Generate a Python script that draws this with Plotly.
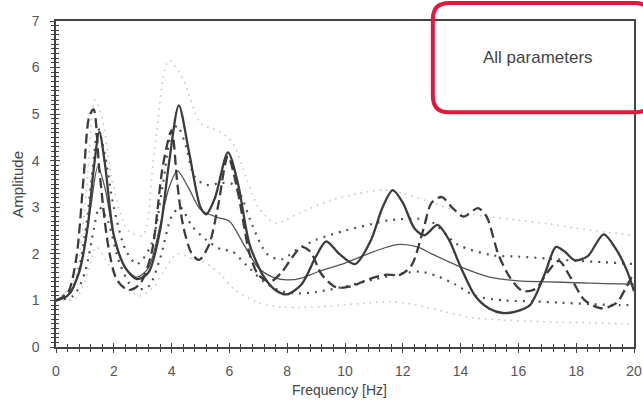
import plotly.graph_objects as go

# ---- data ----
case_a_x = [0, 0.4, 0.8, 1.1, 1.3, 1.5, 1.7, 2.0, 2.4, 2.8, 3.2, 3.6, 3.9, 4.25, 4.6, 5.0, 5.2, 5.5, 5.95, 6.3, 6.7, 7.2, 7.6, 8.0, 8.5, 9.0, 9.35, 9.8, 10.35, 10.9, 11.3, 11.65, 12.0, 12.4, 12.75, 13.2, 13.6, 14.0, 14.5, 15.0, 15.45, 15.9, 16.4, 16.9, 17.3, 17.6, 17.95, 18.4, 18.95, 19.4, 19.75, 20]
case_a_y = [1.0, 1.1, 1.6, 2.6, 3.8, 4.62, 3.9, 2.4, 1.7, 1.46, 1.6, 2.5, 3.9, 5.19, 4.2, 3.0, 2.85, 3.2, 4.18, 3.5, 2.2, 1.5, 1.22, 1.13, 1.35, 1.95, 2.27, 2.0, 1.78, 2.3, 3.0, 3.37, 3.1, 2.55, 2.4, 2.62, 2.3, 1.72, 1.1, 0.82, 0.73, 0.76, 0.9, 1.55, 2.15, 2.05, 1.86, 1.95, 2.42, 2.08, 1.65, 1.2]

case_b_x = [0, 0.4, 0.7, 0.95, 1.15, 1.3, 1.5, 1.8, 2.1, 2.5, 2.9, 3.3, 3.7, 4.0, 4.2, 4.4, 4.7, 4.95, 5.3, 5.6, 5.95, 6.3, 6.7, 7.0, 7.4, 7.8, 8.2, 8.5, 8.8, 9.2, 9.7, 10.2, 10.8, 11.4, 11.9, 12.3, 12.7, 13.0, 13.35, 13.7, 14.1, 14.6, 14.9, 15.3, 15.7, 16.15, 16.6, 17.0, 17.4, 17.8, 18.3, 18.9, 19.4, 19.7, 20]
case_b_y = [1.0, 1.15, 1.9, 3.6, 4.95, 5.1, 3.8, 2.2, 1.45, 1.22, 1.35, 2.0, 3.9, 4.65, 3.5, 2.6, 2.0, 1.87, 2.2, 3.0, 4.1, 3.3, 2.0, 1.55, 1.4, 1.6, 1.95, 2.15, 2.05, 1.55, 1.28, 1.3, 1.45, 1.55, 1.55, 1.75, 2.5, 3.1, 3.22, 3.0, 2.8, 2.98, 2.8, 2.0, 1.5, 1.2, 1.25, 1.6, 1.85, 1.5, 1.0, 0.83, 0.95, 1.25, 1.6]

mean_x = [0, 0.5, 0.9, 1.2, 1.45, 1.7, 2.0, 2.4, 2.8, 3.2, 3.6, 3.9, 4.2, 4.6, 5.0, 5.6, 6.0, 6.5, 7.0, 7.5, 8.0, 8.5, 9.0, 10.0, 11.0, 11.8, 12.5, 13.0, 14.0, 15.0, 16.0, 17.0, 18.0, 19.0, 20.0]
mean_y = [1.0, 1.15, 1.9, 3.0, 3.88, 3.4, 2.4, 1.7, 1.5, 1.7, 2.6, 3.4, 3.78, 3.4, 2.95, 2.78, 2.7, 2.2, 1.7, 1.5, 1.44, 1.48, 1.6, 1.8, 2.05, 2.2, 2.15, 2.0, 1.72, 1.5, 1.42, 1.4, 1.38, 1.36, 1.35]

upper_x = [0, 0.6, 1.0, 1.3, 1.45, 1.7, 2.0, 2.4, 2.8, 3.3, 3.7, 4.0, 4.2, 4.5, 4.8, 5.2, 5.7, 6.1, 6.4, 6.8, 7.3, 7.8, 8.3, 9.0, 10.0, 11.0, 11.5, 12.9, 13.9, 15.1, 16.0, 17.0, 18.0, 19.0, 20.0]
upper_y = [1.0, 1.3, 2.4, 4.0, 4.7, 4.1, 3.0, 2.1, 1.78, 2.2, 3.5, 4.6, 4.75, 4.3, 3.65, 3.48, 3.52, 3.5, 3.25, 2.6, 2.0, 1.88, 2.08, 2.3, 2.5, 2.65, 2.72, 2.72, 2.2, 1.97, 1.94, 1.9, 1.85, 1.82, 1.78]

lower_x = [0, 0.6, 1.0, 1.3, 1.5, 1.8, 2.2, 2.7, 3.2, 3.6, 4.0, 4.3, 4.7, 5.2, 5.7, 6.1, 6.6, 7.2, 7.8, 8.4, 9.0, 10.0, 11.0, 12.0, 12.6, 13.2, 13.8, 14.5, 15.5, 16.5, 17.5, 18.5, 19.5, 20.0]
lower_y = [1.0, 1.1, 1.6, 2.5, 3.0, 2.7, 1.8, 1.25, 1.3, 1.9, 2.8, 3.0, 2.6, 2.3, 2.1, 2.05, 1.75, 1.4, 1.2, 1.15, 1.18, 1.3, 1.45, 1.58, 1.62, 1.52, 1.35, 1.1, 1.0, 0.98, 0.95, 0.92, 0.9, 0.9]

outer_up_x = [0, 0.6, 1.0, 1.35, 1.6, 2.0, 2.5, 3.0, 3.4, 3.9, 4.4, 5.0, 5.6, 6.1, 6.6, 7.0, 7.6, 8.4, 9.5, 10.5, 11.3, 12.0, 13.0, 14.0, 15.0, 16.0, 17.0, 18.0, 19.0, 20.0]
outer_up_y = [1.0, 1.4, 3.0, 5.3, 4.9, 3.4, 2.5, 2.4, 4.2, 6.15, 5.75, 4.8, 4.65, 4.4, 3.6, 3.0, 2.66, 2.87, 3.15, 3.3, 3.37, 3.3, 3.1, 2.9, 2.8, 2.72, 2.65, 2.55, 2.47, 2.4]

outer_lo_x = [0, 0.7, 1.1, 1.4, 1.7, 2.2, 2.9, 3.4, 3.8, 4.2, 4.7, 5.2, 5.7, 6.2, 7.0, 7.8, 8.5, 9.5, 10.5, 11.6, 12.5, 13.5, 14.5, 15.5, 16.5, 17.5, 18.5, 19.5, 20]
outer_lo_y = [1.0, 1.05, 1.6, 2.15, 1.9, 1.4, 1.1, 1.3, 1.7, 2.0, 1.9, 1.8, 1.55, 1.22, 0.95, 0.86, 0.85, 0.88, 0.93, 0.97, 0.9, 0.75, 0.62, 0.58, 0.55, 0.53, 0.52, 0.5, 0.5]

x_ticks = [0, 2, 4, 6, 8, 10, 12, 14, 16, 18, 20]
y_ticks = [0, 1, 2, 3, 4, 5, 6, 7]
box_label = "All parameters"
x_title = "Frequency [Hz]"
y_title = "Amplitude"

FONT = "Arial, Liberation Sans, sans-serif"
fig = go.Figure()

def add(x, y, color, width, dash):
    fig.add_trace(go.Scatter(x=x, y=y, mode="lines", showlegend=False, hoverinfo="skip", cliponaxis=True,
                             line=dict(color=color, width=width, dash=dash, shape="spline", smoothing=0.8)))

add(outer_up_x, outer_up_y, "#c4c4c4", 1.6, "1.5px,5px")
add(outer_lo_x, outer_lo_y, "#c4c4c4", 1.6, "1.5px,5px")
add(upper_x, upper_y, "#505050", 2.2, "2px,6px")
add(lower_x, lower_y, "#505050", 2.2, "2px,6px")
add(mean_x, mean_y, "#555555", 1.3, "solid")
add(case_b_x, case_b_y, "#3c3c3c", 2.3, "10px,5px")
add(case_a_x, case_a_y, "#3c3c3c", 2.3, "solid")

# dummy trace for the overlay axes (tick crossings)
fig.add_trace(go.Scatter(x=[None], y=[None], xaxis="x2", yaxis="y2", showlegend=False, hoverinfo="skip"))

axis_common = dict(showgrid=False, zeroline=False, showline=True, linecolor="#444", linewidth=1.5,
                   ticks="outside", ticklen=4, tickcolor="#444", tickwidth=1, automargin=False,
                   tickfont=dict(family=FONT, size=14, color="#555"))
fig.update_layout(
    width=643, height=402,
    margin=dict(l=56, r=9, t=21, b=55, autoexpand=False),
    paper_bgcolor="white", plot_bgcolor="white",
    xaxis=dict(range=[0, 20], tickvals=x_ticks, mirror=True, ticklabelstandoff=6,
               minor=dict(dtick=0.4, tick0=0, ticks="outside", ticklen=3, tickcolor="#444"),
               **axis_common),
    yaxis=dict(range=[0, 7], tickvals=y_ticks, mirror=True, ticklabelstandoff=8,
               minor=dict(dtick=0.1, tick0=0, ticks="outside", ticklen=3, tickcolor="#444"),
               **axis_common),
    xaxis2=dict(overlaying="x", matches="x", range=[0, 20], anchor="y2", showgrid=False, zeroline=False,
                showline=False, showticklabels=False, ticks="inside", ticklen=4, tickcolor="#444",
                tickvals=x_ticks, automargin=False,
                minor=dict(dtick=0.4, tick0=0, ticks="inside", ticklen=3, tickcolor="#444")),
    yaxis2=dict(overlaying="y", matches="y", range=[0, 7], anchor="x2", showgrid=False, zeroline=False,
                showline=False, showticklabels=False, ticks="inside", ticklen=4, tickcolor="#444",
                tickvals=y_ticks, automargin=False,
                minor=dict(dtick=0.1, tick0=0, ticks="inside", ticklen=3, tickcolor="#444")),
)

fig.add_annotation(text=x_title, xref="paper", yref="paper", x=0.49, y=-0.133,
                   xanchor="center", yanchor="middle",
                   showarrow=False, font=dict(family=FONT, size=14, color="#444"))
fig.add_annotation(text=y_title, xref="paper", yref="paper", x=-0.068, y=0.5, textangle=-90,
                   xanchor="center", yanchor="middle",
                   showarrow=False, font=dict(family=FONT, size=15, color="#444"))

# rounded red box
x0, x1, y0, y1 = 0.652, 1.03, 0.72, 1.055
rx, ry = 0.028, 0.05
path = (f"M {x0+rx},{y1} L {x1-rx},{y1} Q {x1},{y1} {x1},{y1-ry} L {x1},{y0+ry} "
        f"Q {x1},{y0} {x1-rx},{y0} L {x0+rx},{y0} Q {x0},{y0} {x0},{y0+ry} "
        f"L {x0},{y1-ry} Q {x0},{y1} {x0+rx},{y1} Z")
fig.add_shape(type="path", path=path, xref="paper", yref="paper",
              line=dict(color="#e8153c", width=4), fillcolor="rgba(255,255,255,0)", layer="above")
fig.add_annotation(text=box_label, xref="paper", yref="paper", x=0.834, y=0.887,
                   xanchor="center", yanchor="middle",
                   showarrow=False, font=dict(family=FONT, size=17, color="#444"))

fig.write_html("out.html", post_script="document.body.style.margin='0px';",
               config={"displayModeBar": False})
